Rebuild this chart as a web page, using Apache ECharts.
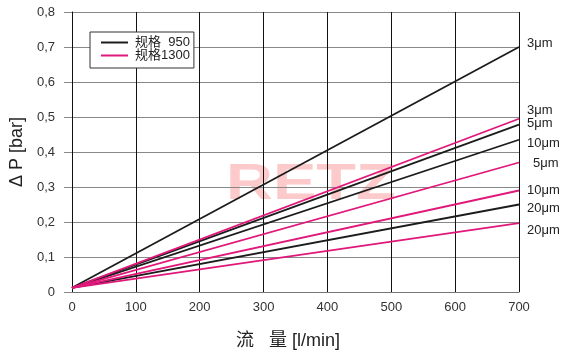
<!DOCTYPE html>
<html>
<head>
<meta charset="utf-8">
<script src="https://cdn.jsdelivr.net/npm/echarts@6/dist/echarts.min.js"></script>
<style>
html,body{margin:0;padding:0;background:#fff;}
#c{width:574px;height:362px;}
</style>
</head>
<body>
<div id="c"></div>
<script>
// ---- data ----
const flow = [0, 700];
const grades = ['3μm', '5μm', '10μm', '20μm'];
const dp950 = [[0.012, 0.700], [0.012, 0.478], [0.012, 0.435], [0.012, 0.250]];
const dp1300 = [[0.012, 0.495], [0.012, 0.370], [0.012, 0.290], [0.012, 0.197]];
const seriesNames = ['规格  950', '规格1300'];
const yTickLabels = ['0', '0,1', '0,2', '0,3', '0,4', '0,5', '0,6', '0,7', '0,8'];

// ---- layout / style ----
const FONT = '"Liberation Sans", Arial, "Noto Sans CJK SC", sans-serif';
const colors = ['#1c1c1c', '#e0187a'];
const labelOffsets950 = [[0, -4], [0, -1], [0, 4], [0, 4]];
const labelOffsets1300 = [[0, -8], [6, 1], [0, 0], [0, 7]];

function makeSeries(name, sets, color, offsets) {
  return sets.map((vals, i) => ({
    type: 'line',
    name: name,
    data: flow.map((x, k) => [x, vals[k]]),
    symbol: 'none',
    lineStyle: { color: color, width: 1.8 },
    itemStyle: { color: color },
    z: 3,
    endLabel: {
      show: true,
      formatter: () => grades[i],
      distance: 8,
      offset: offsets[i],
      color: '#222',
      fontSize: 13,
      fontFamily: FONT
    }
  }));
}

const chart = echarts.init(document.getElementById('c'));
chart.setOption({
  animation: false,
  grid: { left: 70, right: 55, top: 12, bottom: 70 },
  legend: {
    left: 90, top: 32,
    orient: 'vertical',
    data: seriesNames,
    icon: 'rect',
    itemWidth: 27, itemHeight: 2,
    itemGap: 0,
    padding: [4, 4, 6, 11],
    borderColor: '#333', borderWidth: 1,
    backgroundColor: '#fff',
    textStyle: { fontSize: 13, color: '#222', fontFamily: FONT, lineHeight: 13, padding: [0, 0, 0, 2] }
  },
  graphic: [{
    type: 'text',
    left: 226, top: 160,
    z: 0, silent: true,
    scaleX: 1.3,
    style: {
      text: 'RETZ',
      font: 'bold 50px "Liberation Sans", Arial, sans-serif',
      fill: '#fccaca'
    }
  }],
  xAxis: {
    type: 'value', min: 0, max: 700, interval: 100,
    name: '流   量 [l/min]',
    nameLocation: 'middle', nameGap: 40,
    nameTextStyle: { fontSize: 18, color: '#222', fontFamily: FONT, padding: [0, 15, 0, 0] },
    axisLine: { show: true, lineStyle: { color: '#777', width: 1 } },
    axisTick: { show: false },
    axisLabel: { fontSize: 13, color: '#333', fontFamily: FONT, margin: 9 },
    splitLine: { show: true, lineStyle: { color: '#111', width: 1 } }
  },
  yAxis: {
    type: 'value', min: 0, max: 0.8, interval: 0.1,
    name: 'Δ P [bar]',
    nameLocation: 'middle', nameGap: 46, nameRotate: 90,
    nameTextStyle: { fontSize: 18, color: '#222', fontFamily: FONT },
    axisLine: { show: true, lineStyle: { color: '#111', width: 1 } },
    axisTick: { show: true, length: 8, lineStyle: { color: '#888' } },
    axisLabel: {
      fontSize: 13, color: '#333', fontFamily: FONT, margin: 17,
      formatter: v => yTickLabels[Math.round(v * 10)]
    },
    splitLine: { show: true, lineStyle: { color: '#888', width: 1 } }
  },
  series: [
    ...makeSeries(seriesNames[0], dp950, colors[0], labelOffsets950),
    ...makeSeries(seriesNames[1], dp1300, colors[1], labelOffsets1300)
  ]
});
</script>
</body>
</html>
